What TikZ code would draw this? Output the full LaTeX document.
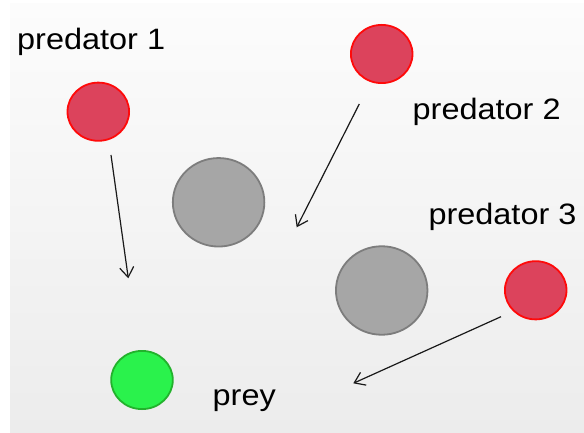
\documentclass[tikz,border=0pt]{standalone}
\usepackage{fontspec}
\setmainfont{Liberation Sans}
\usetikzlibrary{arrows.meta,shapes.geometric}
\definecolor{predfill}{RGB}{220,67,92}
\definecolor{preddraw}{RGB}{255,10,10}
\definecolor{obsfill}{RGB}{166,166,166}
\definecolor{obsdraw}{RGB}{125,125,125}
\definecolor{preyfill}{RGB}{42,242,76}
\definecolor{preydraw}{RGB}{34,178,44}
\definecolor{bgtop}{RGB}{252,252,252}
\definecolor{bgbot}{RGB}{236,236,236}
\definecolor{arrowcol}{RGB}{25,25,25}
\newcommand\stretchtxt[1]{\scalebox{1.1}[1]{#1}}
\tikzset{
  agent/.style={ellipse,inner sep=0pt,line width=1.8pt,minimum width=61.6pt,minimum height=58.2pt},
  predator/.style={agent,fill=predfill,draw=preddraw},
  preyagent/.style={agent,fill=preyfill,draw=preydraw},
  obstacle/.style={ellipse,inner sep=0pt,line width=1.8pt,fill=obsfill,draw=obsdraw,minimum width=91.5pt,minimum height=88.5pt},
  lbl/.style={anchor=base west,inner sep=0pt,font=\fontsize{29.5}{34}\selectfont},
  move/.style={draw=arrowcol,line width=1.2pt,-{Straight Barb[length=10pt,width=14pt]}}
}
\begin{document}
\begin{tikzpicture}[x=1pt,y=-1pt]
\useasboundingbox (0,0) rectangle (584,433);
\shade[top color=bgtop,bottom color=bgbot] (10,4) rectangle (584,433);
% agents
\node[predator] (p1) at (98.3,111.7) {};
\node[predator] (p2) at (381.7,54) {};
\node[predator] (p3) at (535.7,290.3) {};
\node[obstacle] (o1) at (218.6,202.3) {};
\node[obstacle] (o2) at (381.7,290.5) {};
\node[preyagent] (prey) at (142,380) {};
% labels
\node[lbl] (l1) at (17,50) {\stretchtxt{predator 1}};
\node[lbl] (l2) at (412.5,119.5) {\stretchtxt{predator 2}};
\node[lbl] (l3) at (428.3,224.5) {\stretchtxt{predator 3}};
\node[lbl] (l4) at (212.5,405) {\stretchtxt{prey}};
% movement arrows
\coordinate (s1) at (111,155);
\coordinate (e1) at (128.3,278.3);
\coordinate (s2) at (359.3,104);
\coordinate (e2) at (296.7,227.3);
\coordinate (s3) at (501,316.7);
\coordinate (e3) at (353.3,383.3);
\draw[move] (s1) -- (e1);
\draw[move] (s2) -- (e2);
\draw[move] (s3) -- (e3);
\end{tikzpicture}
\end{document}
